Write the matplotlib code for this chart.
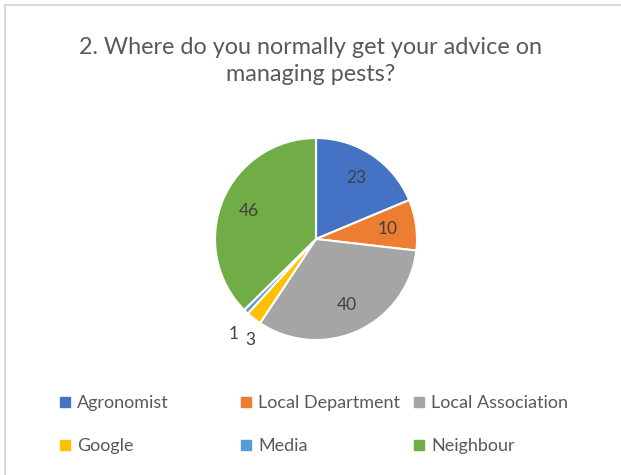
import numpy as np
import matplotlib.pyplot as plt
from matplotlib.lines import Line2D

categories = ["Agronomist", "Local Department", "Local Association", "Google", "Media", "Neighbour"]
values = [23, 10, 40, 3, 1, 46]
colors = ["#4472C4", "#ED7D31", "#A5A5A5", "#FFC000", "#5B9BD5", "#70AD47"]

# label distance from centre (fraction of radius) and small angle nudge
label_dist = [0.72, 0.72, 0.72, 1.19, 1.24, 0.72]
label_nudge = [0, 0, 0, 5, 3, 0]

plt.rcParams['font.family'] = ['Lato', 'DejaVu Sans']

fig = plt.figure(figsize=(6.21, 4.75), dpi=100)
ax = fig.add_axes([316/621 - 101/621, 1 - (239 + 101)/475, 202/621, 202/475])

wedges, _ = ax.pie(values, colors=colors, startangle=90, counterclock=False,
                   wedgeprops=dict(edgecolor="white", linewidth=1.5))
ax.set_aspect("equal")
ax.set_xlim(-1, 1)
ax.set_ylim(-1, 1)

for w, v, d, n in zip(wedges, values, label_dist, label_nudge):
    ang = np.deg2rad((w.theta1 + w.theta2) / 2 + n)
    ax.text(d * np.cos(ang), d * np.sin(ang), str(v), ha="center", va="center",
            fontsize=12.5, color="#404040", clip_on=False)

fig.text(0.5, 1 - 61/475, "2. Where do you normally get your advice on\nmanaging pests?",
         ha="center", va="center", fontsize=16.8, color="#595959", linespacing=1.35)

# legend: three fixed-width columns, two rows
col_x = [58/621, 239/621, 412/621]
for i, x in enumerate(col_x):
    idx = [i, i + 3]
    handles = [Line2D([], [], marker="s", linestyle="", markersize=6.5, color=colors[j]) for j in idx]
    fig.legend(handles, [categories[j] for j in idx], loc="upper left",
               bbox_to_anchor=(x, 1 - 395/475), frameon=False, fontsize=13,
               labelcolor="#595959", handletextpad=0.25, handlelength=0.8,
               labelspacing=1.5, borderpad=0, borderaxespad=0)

# light frame on top and left edges
fig.add_artist(Line2D([5/621, 1], [1 - 5/475, 1 - 5/475], color="#D9D9D9", linewidth=1.5))
fig.add_artist(Line2D([5/621, 5/621], [0, 1 - 5/475], color="#D9D9D9", linewidth=1.5))

fig.savefig("out.png", dpi=100)
